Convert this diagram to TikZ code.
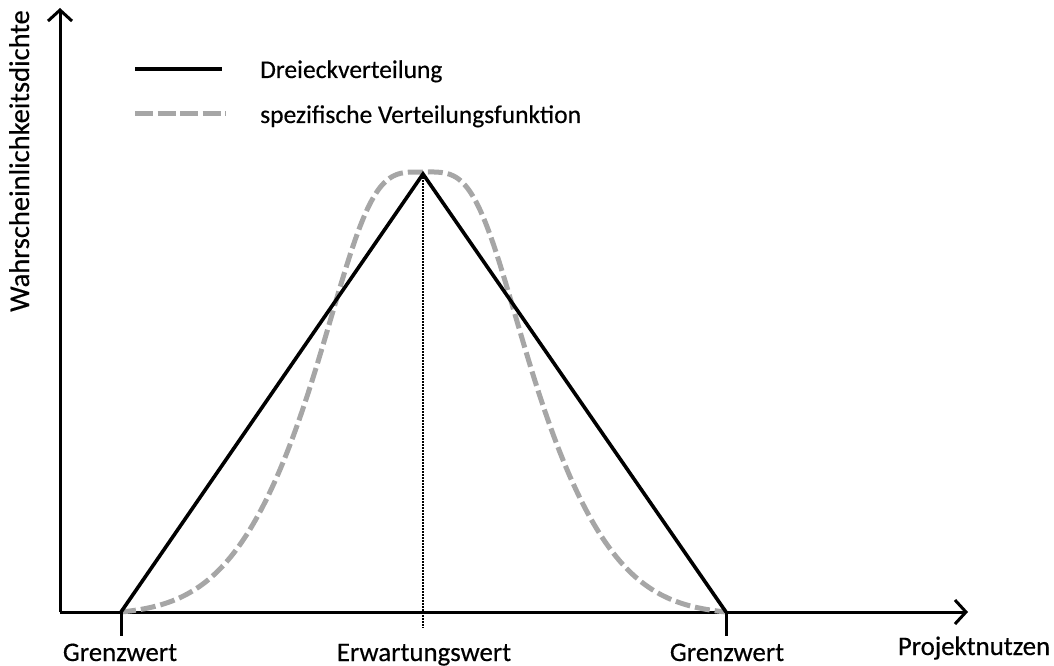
\documentclass[tikz,border=0pt]{standalone}
\usepackage{fontspec}
\setmainfont{Carlito}[FakeBold=0.4]
\usetikzlibrary{arrows.meta}
\definecolor{curvegray}{HTML}{A6A6A6}
\tikzset{
  axisline/.style={line width=3pt, -{Straight Barb[length=11pt,width=24pt]}},
  tickline/.style={line width=3pt},
  triline/.style={line width=3.6pt, line join=miter},
  specline/.style={line width=5pt, curvegray, dash pattern=on 15pt off 5pt},
  guide/.style={line width=1.4pt, dash pattern=on 1.5pt off 1.5pt},
  lbl/.style={font=\fontsize{26.8}{32}\selectfont, inner sep=0pt},
  keytext/.style={font=\fontsize{25.5}{30}\selectfont, inner sep=0pt, anchor=base west},
}
\begin{document}
\begin{tikzpicture}[x=1pt,y=-1pt]
  \useasboundingbox (0,0) rectangle (1054,666);

  % axes
  \coordinate (origin) at (60,612);
  \coordinate (ytip) at (60,8);
  \coordinate (xtip) at (968,612);
  \draw[axisline] (origin) -- (ytip);
  \draw[axisline] (origin) -- (xtip);

  % key points of the triangle
  \coordinate (gl) at (121,612);
  \coordinate (gr) at (726,612);
  \coordinate (peak) at (423,174);
  \coordinate (glt) at (121,636);
  \coordinate (grt) at (726,636);
  \coordinate (ew) at (423,628);

  % expectation guide
  \draw[guide] (peak) -- (ew);

  % bell-shaped specific distribution
  \draw[specline] plot[domain=-1:1, samples=161, smooth]
    ({423.5+302.5*\x},
     {612-440*(exp(-5*\x*\x*(1-exp(-\x*\x/0.0484)))-0.0067)/0.9933});

  % triangular distribution
  \draw[triline] (gl) -- (peak) -- (gr);

  % ticks
  \draw[tickline] (gl) -- (glt);
  \draw[tickline] (gr) -- (grt);

  % axis labels
  \node[lbl, anchor=base] (lgl) at (120,661) {Grenzwert};
  \node[lbl, anchor=base] (lew) at (424,661) {Erwartungswert};
  \node[lbl, anchor=base] (lgr) at (727,661) {Grenzwert};
  \node[lbl, anchor=base] (lx) at (974,655) {Projektnutzen};
  \node[lbl, font=\fontsize{28.5}{34}\selectfont, rotate=90, anchor=base] (ly) at (29,161) {Wahrscheinlichkeitsdichte};

  % legend
  \coordinate (k1a) at (135,69);
  \coordinate (k1b) at (222,69);
  \coordinate (k2a) at (135,114);
  \coordinate (k2b) at (226,114);
  \draw[line width=3.6pt] (k1a) -- (k1b);
  \draw[specline, dash pattern=on 18pt off 4.5pt] (k2a) -- (k2b);
  \node[keytext] (t1) at (260,78) {Dreieckverteilung};
  \node[keytext] (t2) at (260,123) {spezifische Verteilungsfunktion};
\end{tikzpicture}
\end{document}
